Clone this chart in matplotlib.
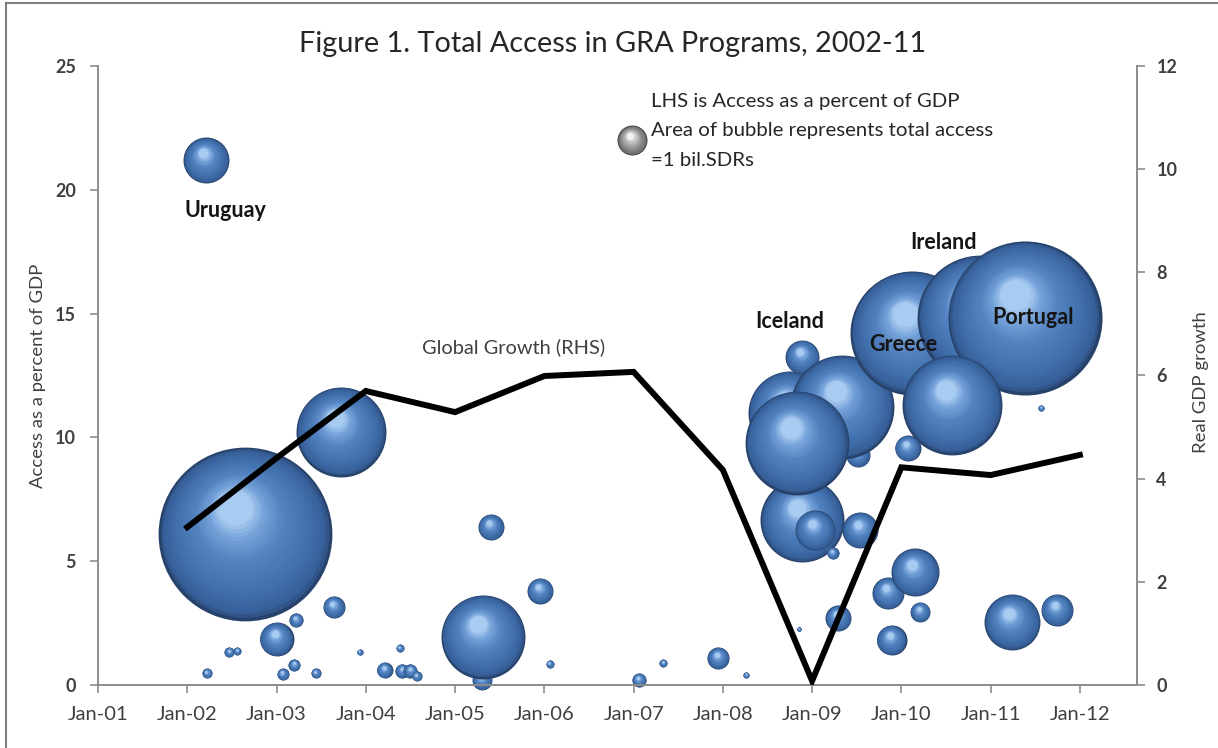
import numpy as np
import matplotlib
matplotlib.use("Agg")
import matplotlib.pyplot as plt
from matplotlib.colors import LinearSegmentedColormap
from matplotlib.transforms import ScaledTranslation

plt.rcParams['font.family'] = ['Lato', 'DejaVu Sans']

# GRA arrangements, in drawing order (back to front)
# date as decimal year, access in % of GDP (LHS), total access in bil. SDRs (bubble area)
bubble_date = [2002.21, 2002.65, 2002.22, 2002.47, 2002.56, 2003.00, 2003.07, 2003.20,
               2003.22, 2003.44, 2003.64, 2003.72, 2003.93, 2004.21, 2004.38, 2004.41,
               2004.50, 2004.57, 2005.30, 2005.31, 2005.40, 2005.95, 2006.06, 2007.06,
               2007.33, 2007.95, 2008.26, 2008.85, 2008.75, 2008.89, 2009.51, 2009.34,
               2008.89, 2008.83, 2009.03, 2009.54, 2009.23, 2009.29, 2009.85, 2009.89,
               2010.15, 2010.21, 2010.12, 2010.88, 2011.38, 2010.57, 2010.07, 2011.57,
               2011.24, 2011.74]
bubble_pct = [21.20, 6.10, 0.48, 1.33, 1.37, 1.86, 0.44, 0.81,
              2.62, 0.48, 3.15, 10.22, 1.33, 0.61, 1.49, 0.57,
              0.57, 0.36, 0.20, 1.94, 6.38, 3.80, 0.85, 0.20,
              0.89, 1.09, 0.40, 2.26, 11.00, 13.25, 9.29, 11.23,
              6.66, 9.77, 6.26, 6.26, 5.33, 2.71, 3.72, 1.82,
              4.56, 2.95, 14.22, 14.82, 14.82, 11.31, 9.57, 11.19,
              2.54, 3.03]
bubble_sdr = [2.35, 33.6, 0.11, 0.11, 0.07, 1.28, 0.16, 0.16,
              0.22, 0.11, 0.54, 9.0, 0.04, 0.28, 0.07, 0.22,
              0.22, 0.11, 0.44, 7.84, 0.75, 0.75, 0.07, 0.22,
              0.07, 0.54, 0.04, 0.02, 7.84, 1.28, 0.64, 12.0,
              7.84, 12.0, 1.78, 1.44, 0.16, 0.75, 1.14, 1.0,
              2.56, 0.44, 17.1, 17.6, 26.4, 11.1, 0.75, 0.04,
              3.48, 1.14]

# global growth (RHS)
growth_year = [2002, 2003, 2004, 2005, 2006, 2007, 2008, 2009, 2010, 2011, 2012]
global_growth = [3.06, 4.40, 5.70, 5.29, 5.99, 6.07, 4.17, 0.08, 4.22, 4.07, 4.46]

year_ticks = list(range(2001, 2013))
year_labels = ["Jan-01", "Jan-02", "Jan-03", "Jan-04", "Jan-05", "Jan-06",
               "Jan-07", "Jan-08", "Jan-09", "Jan-10", "Jan-11", "Jan-12"]

SIZE_PER_SDR = 466.0  # marker area (pt^2) for 1 bil. SDR

fig = plt.figure(figsize=(12.18, 7.48), dpi=100)
ax = fig.add_axes([0.0805, 0.0842, 0.853, 0.8276])

blue = LinearSegmentedColormap.from_list(
    "ball", [(0.0, "#28436b"), (0.06, "#365e98"), (0.3, "#4272ae"),
             (0.6, "#5282bf"), (0.85, "#76a3da"), (1.0, "#a8cbf1")])
grey = LinearSegmentedColormap.from_list(
    "gball", [(0.0, "#404040"), (0.08, "#6a6a6a"), (0.5, "#9c9c9c"),
              (0.85, "#cdcdcd"), (1.0, "#f4f4f4")])


def draw_ball(x, y, s, cmap, base):
    # fake a shaded sphere with shrinking, offset discs
    r = np.sqrt(s) / 2.0
    n = 26
    for k in range(n):
        t = k / (n - 1)
        f = 1.0 - 0.8 * t
        dx = -0.12 * r * t
        dy = 0.30 * r * t
        tr = base + ScaledTranslation(dx / 72, dy / 72, fig.dpi_scale_trans)
        ax.scatter([x], [y], s=s * f * f, color=cmap(t), transform=tr,
                   linewidths=0, zorder=2, clip_on=False)


for d, p, a in zip(bubble_date, bubble_pct, bubble_sdr):
    draw_ball(d, p, a * SIZE_PER_SDR, blue, ax.transData)

# legend bubble = 1 bil. SDRs
draw_ball(0.514, 0.880, 1.0 * SIZE_PER_SDR, grey, ax.transAxes)

ax.set_xlim(2001, 2012.64)
ax.set_ylim(0, 25)
ax.set_xticks(year_ticks)
ax.set_xticklabels(year_labels, fontsize=14.5, color="#404040")
ax.set_yticks([0, 5, 10, 15, 20, 25])
ax.set_yticklabels(["0", "5", "10", "15", "20", "25"], fontsize=13,
                   fontweight="bold", color="#404040")
ax.set_ylabel("Access as a percent of GDP", fontsize=13.3, color="#404040")
ax.yaxis.set_label_coords(-0.050, 0.5)

ax2 = ax.twinx()
ax2.plot(growth_year, global_growth, color="black", lw=4.3, solid_joinstyle="miter",
         zorder=5)
ax2.set_ylim(0, 12)
ax2.set_yticks([0, 2, 4, 6, 8, 10, 12])
ax2.set_yticklabels(["0", "2", "4", "6", "8", "10", "12"], fontsize=13,
                    fontweight="bold", color="#404040")
ax2.set_ylabel("Real GDP growth", fontsize=13.3, color="#404040")
ax2.yaxis.set_label_coords(1.054, 0.49)

for a_ in (ax, ax2):
    a_.spines["top"].set_visible(False)
    for sp in ("left", "right", "bottom"):
        a_.spines[sp].set_color("#8c8c8c")
        a_.spines[sp].set_linewidth(1.2)
    a_.tick_params(direction="out", length=6, width=1.2, color="#8c8c8c")
ax.tick_params(axis="y", pad=10)
ax2.tick_params(axis="y", pad=8)
ax.tick_params(axis="x", pad=9)

# country labels
lbl = dict(fontsize=15.5, fontweight="bold", color="#151515", ha="center", va="center",
           zorder=10)
ax.text(2002.43, 19.18, "Uruguay", **lbl)
ax.text(2008.75, 14.70, "Iceland", **lbl)
ax.text(2010.47, 17.89, "Ireland", **lbl)
ax.text(2010.02, 13.77, "Greece", **lbl)
ax.text(2011.47, 14.86, "Portugal", **lbl)
ax.text(2005.65, 13.65, "Global Growth (RHS)", fontsize=14.4, color="#404040",
        ha="center", va="center")

note = dict(fontsize=14.7, color="#262626", ha="left", va="center",
            transform=ax.transAxes)
ax.text(0.532, 0.942, "LHS is Access as a percent of GDP", **note)
ax.text(0.532, 0.895, "Area of bubble represents total access", **note)
ax.text(0.532, 0.848, "=1 bil.SDRs", **note)

fig.text(613 / 1218, 1 - 44 / 748, "Figure 1. Total Access in GRA Programs, 2002-11",
         fontsize=20.8, color="#262626", ha="center", va="center")

# outer frame (top and left edges visible)
fig.add_artist(plt.Line2D([6 / 1218, 1], [1 - 3 / 748, 1 - 3 / 748],
                          transform=fig.transFigure, color="#808080", lw=1.5))
fig.add_artist(plt.Line2D([6 / 1218, 6 / 1218], [0, 1 - 3 / 748],
                          transform=fig.transFigure, color="#808080", lw=1.5))

fig.savefig("out.png", dpi=100)
